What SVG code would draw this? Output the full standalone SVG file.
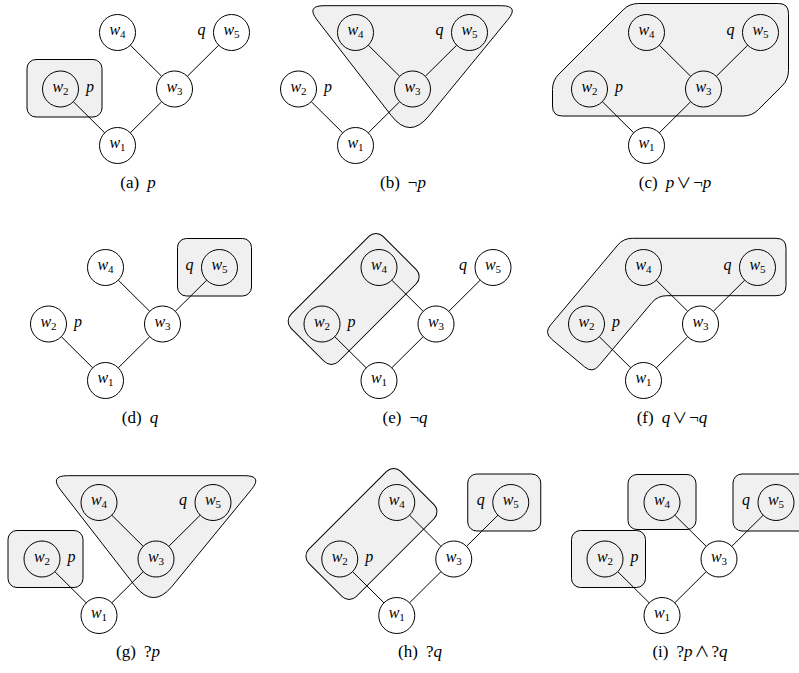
<svg xmlns="http://www.w3.org/2000/svg" width="799" height="673" viewBox="0 0 799 673">
<defs>
<style>
.region{fill:#f0f0f0;stroke:#000;stroke-width:1}
.node circle{fill:none;stroke:#000;stroke-width:1}
.edges line{stroke:#000;stroke-width:1}
text{font-family:"Liberation Serif","Times New Roman",serif;fill:#000}
.lbl{font-size:16px;text-anchor:middle}
.it{font-style:italic}
.sub{font-size:11px}
.cap{font-size:17px;text-anchor:middle}
.op{font-family:"Noto Sans CJK JP","DejaVu Serif",serif;font-size:15px}
</style>
</defs>
<rect width="799" height="673" fill="#fff"/>

<!-- (a) -->
<g id="panel-a" transform="translate(117.5,32.5)">
<g id="a-region"><rect class="region" x="-90.5" y="27" width="75" height="57.5" rx="9"/></g>
<g id="a-edges" class="edges">
<line x1="-44.22" y1="69.17" x2="-12.78" y2="100.33"/><line x1="12.78" y1="100.33" x2="44.22" y2="69.17"/><line x1="12.78" y1="12.67" x2="44.22" y2="43.83"/><line x1="69.78" y1="43.83" x2="101.22" y2="12.67"/>
</g>
<g id="a-w1" class="node" transform="translate(0,113)"><circle r="18"/><text class="lbl" y="2.5"><tspan class="it">w</tspan><tspan class="sub" dy="3">1</tspan></text></g>
<g id="a-w2" class="node" transform="translate(-57,56.5)"><circle r="18"/><text class="lbl" y="2.5"><tspan class="it">w</tspan><tspan class="sub" dy="3">2</tspan></text><text class="lbl it" x="29.5" y="2.5">p</text></g>
<g id="a-w3" class="node" transform="translate(57,56.5)"><circle r="18"/><text class="lbl" y="2.5"><tspan class="it">w</tspan><tspan class="sub" dy="3">3</tspan></text></g>
<g id="a-w4" class="node" transform="translate(0,0)"><circle r="18"/><text class="lbl" y="2.5"><tspan class="it">w</tspan><tspan class="sub" dy="3">4</tspan></text></g>
<g id="a-w5" class="node" transform="translate(114,0)"><circle r="18"/><text class="lbl" y="2.5"><tspan class="it">w</tspan><tspan class="sub" dy="3">5</tspan></text><text class="lbl it" x="-30" y="2.5">q</text></g>
</g>
<text class="cap" x="138" y="188">(a)<tspan class="it" dx="8">p</tspan></text>

<!-- (b) -->
<g id="panel-b" transform="translate(355.5,32.5)">
<g id="b-region"><path class="region" d="M -31.5,-26.8 L 145.8,-26.8 Q 163.8,-26.8 152.39,-12.89 L 73.22,83.61 Q 54.2,106.8 35.81,83.1 L -38.47,-12.58 Q -49.5,-26.8 -31.5,-26.8 Z"/></g>
<g id="b-edges" class="edges">
<line x1="-44.22" y1="69.17" x2="-12.78" y2="100.33"/><line x1="12.78" y1="100.33" x2="44.22" y2="69.17"/><line x1="12.78" y1="12.67" x2="44.22" y2="43.83"/><line x1="69.78" y1="43.83" x2="101.22" y2="12.67"/>
</g>
<g id="b-w1" class="node" transform="translate(0,113)"><circle r="18"/><text class="lbl" y="2.5"><tspan class="it">w</tspan><tspan class="sub" dy="3">1</tspan></text></g>
<g id="b-w2" class="node" transform="translate(-57,56.5)"><circle r="18"/><text class="lbl" y="2.5"><tspan class="it">w</tspan><tspan class="sub" dy="3">2</tspan></text><text class="lbl it" x="29.5" y="2.5">p</text></g>
<g id="b-w3" class="node" transform="translate(57,56.5)"><circle r="18"/><text class="lbl" y="2.5"><tspan class="it">w</tspan><tspan class="sub" dy="3">3</tspan></text></g>
<g id="b-w4" class="node" transform="translate(0,0)"><circle r="18"/><text class="lbl" y="2.5"><tspan class="it">w</tspan><tspan class="sub" dy="3">4</tspan></text></g>
<g id="b-w5" class="node" transform="translate(114,0)"><circle r="18"/><text class="lbl" y="2.5"><tspan class="it">w</tspan><tspan class="sub" dy="3">5</tspan></text><text class="lbl it" x="-30" y="2.5">q</text></g>
</g>
<text class="cap" x="403" y="188">(b)<tspan dx="8">¬</tspan><tspan class="it">p</tspan></text>

<!-- (c) -->
<g id="panel-c" transform="translate(646.5,32.5)">
<g id="c-region"><path class="region" d="M -8,-29 L 132,-29 Q 142,-29 142,-19 L 142,38 Q 142,47 135.64,53.36 L 111.86,77.14 Q 105.5,83.5 96.5,83.5 L -84,83.5 Q -94,83.5 -94,73.5 L -94,57 Q -94,48 -87.64,41.64 L -23.36,-22.64 Q -17,-29 -8,-29 Z"/></g>
<g id="c-edges" class="edges">
<line x1="-44.22" y1="69.17" x2="-12.78" y2="100.33"/><line x1="12.78" y1="100.33" x2="44.22" y2="69.17"/><line x1="12.78" y1="12.67" x2="44.22" y2="43.83"/><line x1="69.78" y1="43.83" x2="101.22" y2="12.67"/>
</g>
<g id="c-w1" class="node" transform="translate(0,113)"><circle r="18"/><text class="lbl" y="2.5"><tspan class="it">w</tspan><tspan class="sub" dy="3">1</tspan></text></g>
<g id="c-w2" class="node" transform="translate(-57,56.5)"><circle r="18"/><text class="lbl" y="2.5"><tspan class="it">w</tspan><tspan class="sub" dy="3">2</tspan></text><text class="lbl it" x="29.5" y="2.5">p</text></g>
<g id="c-w3" class="node" transform="translate(57,56.5)"><circle r="18"/><text class="lbl" y="2.5"><tspan class="it">w</tspan><tspan class="sub" dy="3">3</tspan></text></g>
<g id="c-w4" class="node" transform="translate(0,0)"><circle r="18"/><text class="lbl" y="2.5"><tspan class="it">w</tspan><tspan class="sub" dy="3">4</tspan></text></g>
<g id="c-w5" class="node" transform="translate(114,0)"><circle r="18"/><text class="lbl" y="2.5"><tspan class="it">w</tspan><tspan class="sub" dy="3">5</tspan></text><text class="lbl it" x="-30" y="2.5">q</text></g>
</g>
<text class="cap" x="675" y="188">(c)<tspan class="it" dx="8">p</tspan><tspan class="op" dx="2">∨</tspan><tspan dx="2">¬</tspan><tspan class="it">p</tspan></text>

<!-- (d) -->
<g id="panel-d" transform="translate(105.5,267.5)">
<g id="d-region"><rect class="region" x="72" y="-29" width="74" height="57.5" rx="9"/></g>
<g id="d-edges" class="edges">
<line x1="-44.22" y1="69.17" x2="-12.78" y2="100.33"/><line x1="12.78" y1="100.33" x2="44.22" y2="69.17"/><line x1="12.78" y1="12.67" x2="44.22" y2="43.83"/><line x1="69.78" y1="43.83" x2="101.22" y2="12.67"/>
</g>
<g id="d-w1" class="node" transform="translate(0,113)"><circle r="18"/><text class="lbl" y="2.5"><tspan class="it">w</tspan><tspan class="sub" dy="3">1</tspan></text></g>
<g id="d-w2" class="node" transform="translate(-57,56.5)"><circle r="18"/><text class="lbl" y="2.5"><tspan class="it">w</tspan><tspan class="sub" dy="3">2</tspan></text><text class="lbl it" x="29.5" y="2.5">p</text></g>
<g id="d-w3" class="node" transform="translate(57,56.5)"><circle r="18"/><text class="lbl" y="2.5"><tspan class="it">w</tspan><tspan class="sub" dy="3">3</tspan></text></g>
<g id="d-w4" class="node" transform="translate(0,0)"><circle r="18"/><text class="lbl" y="2.5"><tspan class="it">w</tspan><tspan class="sub" dy="3">4</tspan></text></g>
<g id="d-w5" class="node" transform="translate(114,0)"><circle r="18"/><text class="lbl" y="2.5"><tspan class="it">w</tspan><tspan class="sub" dy="3">5</tspan></text><text class="lbl it" x="-30" y="2.5">q</text></g>
</g>
<text class="cap" x="140" y="422.5">(d)<tspan class="it" dx="8">q</tspan></text>

<!-- (e) -->
<g id="panel-e" transform="translate(379,267.5)">
<g id="e-region"><rect class="region" x="-65" y="-29" width="130" height="67" rx="10" transform="translate(-28.5,28.25) rotate(-45)"/></g>
<g id="e-edges" class="edges">
<line x1="-44.22" y1="69.17" x2="-12.78" y2="100.33"/><line x1="12.78" y1="100.33" x2="44.22" y2="69.17"/><line x1="12.78" y1="12.67" x2="44.22" y2="43.83"/><line x1="69.78" y1="43.83" x2="101.22" y2="12.67"/>
</g>
<g id="e-w1" class="node" transform="translate(0,113)"><circle r="18"/><text class="lbl" y="2.5"><tspan class="it">w</tspan><tspan class="sub" dy="3">1</tspan></text></g>
<g id="e-w2" class="node" transform="translate(-57,56.5)"><circle r="18"/><text class="lbl" y="2.5"><tspan class="it">w</tspan><tspan class="sub" dy="3">2</tspan></text><text class="lbl it" x="29.5" y="2.5">p</text></g>
<g id="e-w3" class="node" transform="translate(57,56.5)"><circle r="18"/><text class="lbl" y="2.5"><tspan class="it">w</tspan><tspan class="sub" dy="3">3</tspan></text></g>
<g id="e-w4" class="node" transform="translate(0,0)"><circle r="18"/><text class="lbl" y="2.5"><tspan class="it">w</tspan><tspan class="sub" dy="3">4</tspan></text></g>
<g id="e-w5" class="node" transform="translate(114,0)"><circle r="18"/><text class="lbl" y="2.5"><tspan class="it">w</tspan><tspan class="sub" dy="3">5</tspan></text><text class="lbl it" x="-30" y="2.5">q</text></g>
</g>
<text class="cap" x="405" y="422.5">(e)<tspan dx="8">¬</tspan><tspan class="it">q</tspan></text>

<!-- (f) -->
<g id="panel-f" transform="translate(643.5,267.5)">
<g id="f-region"><path class="region" d="M -11.1,-29.2 L 132.5,-29.2 Q 142.5,-29.2 142.5,-19.2 L 142.5,18.2 Q 142.5,28.2 132.5,28.2 L 23.2,28.2 Q 14.2,28.2 8.41,35.09 L -44.67,98.24 Q -51.1,105.9 -58.76,99.47 L -91.84,71.73 Q -99.5,65.3 -93.07,57.64 L -25.89,-22.31 Q -20.1,-29.2 -11.1,-29.2 Z"/></g>
<g id="f-edges" class="edges">
<line x1="-44.22" y1="69.17" x2="-12.78" y2="100.33"/><line x1="12.78" y1="100.33" x2="44.22" y2="69.17"/><line x1="12.78" y1="12.67" x2="44.22" y2="43.83"/><line x1="69.78" y1="43.83" x2="101.22" y2="12.67"/>
</g>
<g id="f-w1" class="node" transform="translate(0,113)"><circle r="18"/><text class="lbl" y="2.5"><tspan class="it">w</tspan><tspan class="sub" dy="3">1</tspan></text></g>
<g id="f-w2" class="node" transform="translate(-57,56.5)"><circle r="18"/><text class="lbl" y="2.5"><tspan class="it">w</tspan><tspan class="sub" dy="3">2</tspan></text><text class="lbl it" x="29.5" y="2.5">p</text></g>
<g id="f-w3" class="node" transform="translate(57,56.5)"><circle r="18"/><text class="lbl" y="2.5"><tspan class="it">w</tspan><tspan class="sub" dy="3">3</tspan></text></g>
<g id="f-w4" class="node" transform="translate(0,0)"><circle r="18"/><text class="lbl" y="2.5"><tspan class="it">w</tspan><tspan class="sub" dy="3">4</tspan></text></g>
<g id="f-w5" class="node" transform="translate(114,0)"><circle r="18"/><text class="lbl" y="2.5"><tspan class="it">w</tspan><tspan class="sub" dy="3">5</tspan></text><text class="lbl it" x="-30" y="2.5">q</text></g>
</g>
<text class="cap" x="672" y="422.5">(f)<tspan class="it" dx="8">q</tspan><tspan class="op" dx="2">∨</tspan><tspan dx="2">¬</tspan><tspan class="it">q</tspan></text>

<!-- (g) -->
<g id="panel-g" transform="translate(99,502.5)">
<g id="g-region">
<rect class="region" x="-91" y="28" width="75" height="57" rx="9"/>
<path class="region" d="M -31.5,-26.8 L 145.8,-26.8 Q 163.8,-26.8 152.39,-12.89 L 73.22,83.61 Q 54.2,106.8 35.81,83.1 L -38.47,-12.58 Q -49.5,-26.8 -31.5,-26.8 Z"/>
</g>
<g id="g-edges" class="edges">
<line x1="-44.22" y1="69.17" x2="-12.78" y2="100.33"/><line x1="12.78" y1="100.33" x2="44.22" y2="69.17"/><line x1="12.78" y1="12.67" x2="44.22" y2="43.83"/><line x1="69.78" y1="43.83" x2="101.22" y2="12.67"/>
</g>
<g id="g-w1" class="node" transform="translate(0,113)"><circle r="18"/><text class="lbl" y="2.5"><tspan class="it">w</tspan><tspan class="sub" dy="3">1</tspan></text></g>
<g id="g-w2" class="node" transform="translate(-57,56.5)"><circle r="18"/><text class="lbl" y="2.5"><tspan class="it">w</tspan><tspan class="sub" dy="3">2</tspan></text><text class="lbl it" x="29.5" y="2.5">p</text></g>
<g id="g-w3" class="node" transform="translate(57,56.5)"><circle r="18"/><text class="lbl" y="2.5"><tspan class="it">w</tspan><tspan class="sub" dy="3">3</tspan></text></g>
<g id="g-w4" class="node" transform="translate(0,0)"><circle r="18"/><text class="lbl" y="2.5"><tspan class="it">w</tspan><tspan class="sub" dy="3">4</tspan></text></g>
<g id="g-w5" class="node" transform="translate(114,0)"><circle r="18"/><text class="lbl" y="2.5"><tspan class="it">w</tspan><tspan class="sub" dy="3">5</tspan></text><text class="lbl it" x="-30" y="2.5">q</text></g>
</g>
<text class="cap" x="138" y="657">(g)<tspan dx="8">?</tspan><tspan class="it">p</tspan></text>

<!-- (h) -->
<g id="panel-h" transform="translate(396.75,502.5)">
<g id="h-region">
<rect class="region" x="-65" y="-29" width="130" height="67" rx="10" transform="translate(-28.5,28.25) rotate(-45)"/>
<rect class="region" x="71" y="-28.5" width="73" height="57" rx="9"/>
</g>
<g id="h-edges" class="edges">
<line x1="-44.22" y1="69.17" x2="-12.78" y2="100.33"/><line x1="12.78" y1="100.33" x2="44.22" y2="69.17"/><line x1="12.78" y1="12.67" x2="44.22" y2="43.83"/><line x1="69.78" y1="43.83" x2="101.22" y2="12.67"/>
</g>
<g id="h-w1" class="node" transform="translate(0,113)"><circle r="18"/><text class="lbl" y="2.5"><tspan class="it">w</tspan><tspan class="sub" dy="3">1</tspan></text></g>
<g id="h-w2" class="node" transform="translate(-57,56.5)"><circle r="18"/><text class="lbl" y="2.5"><tspan class="it">w</tspan><tspan class="sub" dy="3">2</tspan></text><text class="lbl it" x="29.5" y="2.5">p</text></g>
<g id="h-w3" class="node" transform="translate(57,56.5)"><circle r="18"/><text class="lbl" y="2.5"><tspan class="it">w</tspan><tspan class="sub" dy="3">3</tspan></text></g>
<g id="h-w4" class="node" transform="translate(0,0)"><circle r="18"/><text class="lbl" y="2.5"><tspan class="it">w</tspan><tspan class="sub" dy="3">4</tspan></text></g>
<g id="h-w5" class="node" transform="translate(114,0)"><circle r="18"/><text class="lbl" y="2.5"><tspan class="it">w</tspan><tspan class="sub" dy="3">5</tspan></text><text class="lbl it" x="-30" y="2.5">q</text></g>
</g>
<text class="cap" x="420" y="657">(h)<tspan dx="8">?</tspan><tspan class="it">q</tspan></text>

<!-- (i) -->
<g id="panel-i" transform="translate(662,502.5)">
<g id="i-region">
<rect class="region" x="-34" y="-28" width="68" height="55" rx="9"/>
<rect class="region" x="71" y="-28.5" width="80" height="57" rx="9"/>
<rect class="region" x="-90.5" y="28" width="74" height="57" rx="9"/>
</g>
<g id="i-edges" class="edges">
<line x1="-44.22" y1="69.17" x2="-12.78" y2="100.33"/><line x1="12.78" y1="100.33" x2="44.22" y2="69.17"/><line x1="12.78" y1="12.67" x2="44.22" y2="43.83"/><line x1="69.78" y1="43.83" x2="101.22" y2="12.67"/>
</g>
<g id="i-w1" class="node" transform="translate(0,113)"><circle r="18"/><text class="lbl" y="2.5"><tspan class="it">w</tspan><tspan class="sub" dy="3">1</tspan></text></g>
<g id="i-w2" class="node" transform="translate(-57,56.5)"><circle r="18"/><text class="lbl" y="2.5"><tspan class="it">w</tspan><tspan class="sub" dy="3">2</tspan></text><text class="lbl it" x="29.5" y="2.5">p</text></g>
<g id="i-w3" class="node" transform="translate(57,56.5)"><circle r="18"/><text class="lbl" y="2.5"><tspan class="it">w</tspan><tspan class="sub" dy="3">3</tspan></text></g>
<g id="i-w4" class="node" transform="translate(0,0)"><circle r="18"/><text class="lbl" y="2.5"><tspan class="it">w</tspan><tspan class="sub" dy="3">4</tspan></text></g>
<g id="i-w5" class="node" transform="translate(114,0)"><circle r="18"/><text class="lbl" y="2.5"><tspan class="it">w</tspan><tspan class="sub" dy="3">5</tspan></text><text class="lbl it" x="-30" y="2.5">q</text></g>
</g>
<text class="cap" x="690" y="657">(i)<tspan dx="8">?</tspan><tspan class="it">p</tspan><tspan class="op" dx="2">∧</tspan><tspan dx="2">?</tspan><tspan class="it">q</tspan></text>
</svg>
